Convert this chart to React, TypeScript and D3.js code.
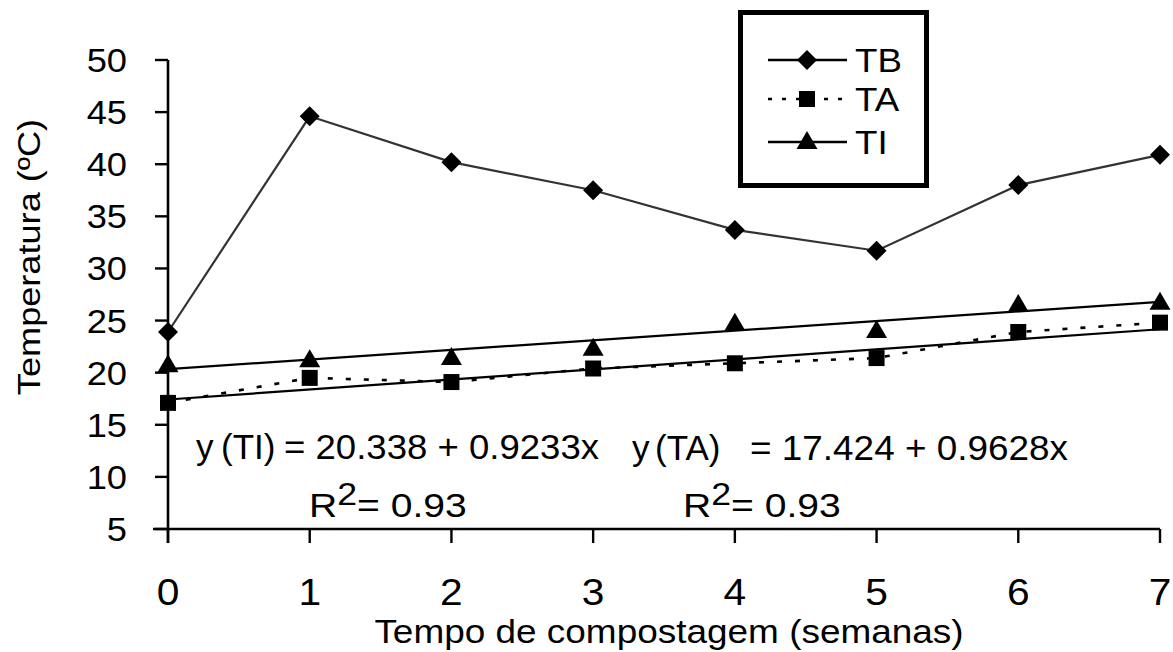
import React from "react";
import * as d3 from "d3";

const weeks = [0, 1, 2, 3, 4, 5, 6, 7];
const tbValues = [23.9, 44.6, 40.2, 37.5, 33.7, 31.7, 38.0, 40.9];
const taValues = [17.1, 19.5, 19.1, 20.4, 20.9, 21.4, 23.9, 24.8];
const tiValues = [20.7, 21.2, 21.4, 22.3, 24.7, 24.0, 26.5, 26.7];
const yTicks = [5, 10, 15, 20, 25, 30, 35, 40, 45, 50];
const xTicks = [0, 1, 2, 3, 4, 5, 6, 7];
const trendTI = [20.338, 0.9233];
const trendTA = [17.424, 0.9628];
const legendNames = ["TB", "TA", "TI"];
const eqSeries = ["TI", "TA"];
const eqRhs = ["= 20.338 + 0.9233x", "= 17.424 + 0.9628x"];
const r2Texts = ["0.93", "0.93"];

const FONT = "'Liberation Sans', Arial, sans-serif";

const W = 1173;
const H = 652;

const x = d3.scaleLinear().domain([0, 7]).range([168, 1160]);
const y = d3.scaleLinear().domain([5, 50]).range([529, 60]);

function Txt(props: {
  x: number;
  y: number;
  size: number;
  sx?: number;
  anchor?: string;
  rotate?: number;
  len?: number;
  children: React.ReactNode;
}) {
  const { size, anchor = "start", rotate = 0, sx = 1.12, len } = props;
  return (
    <text
      transform={`translate(${props.x},${props.y}) rotate(${rotate}) scale(${len ? 1 : sx},1)`}
      fontFamily={FONT}
      fontSize={size}
      textAnchor={anchor}
      fill="#000"
      textLength={len}
      lengthAdjust={len ? "spacingAndGlyphs" : undefined}
      style={{ whiteSpace: "pre" }}
    >
      {props.children}
    </text>
  );
}

function diamond(cx: number, cy: number, r = 10) {
  return `M${cx},${cy - r}L${cx + r},${cy}L${cx},${cy + r}L${cx - r},${cy}Z`;
}
function triangle(cx: number, cy: number, w = 21, h = 18) {
  return `M${cx},${cy - h / 2 - 2}L${cx + w / 2},${cy + h / 2 - 2}L${cx - w / 2},${cy + h / 2 - 2}Z`;
}

export default function App() {
  const line = d3
    .line<number>()
    .x((_, i) => x(weeks[i]))
    .y((v) => y(v));

  const trend = (c: number[]) =>
    d3
      .line<number>()
      .x((t) => x(t))
      .y((t) => y(c[0] + c[1] * t))([0, 7]) as string;

  const legendRows = [60, 99, 142];
  const eqPos = [
    { yx: 196, px: 221, ex: 284, end: 599, base: 459, rx: 309 },
    { yx: 632, px: 655, ex: 750, end: 1068, base: 460, rx: 683 },
  ];

  return (
    <svg
      width={W}
      height={H}
      style={{ position: "absolute", left: 0, top: 0, background: "#fff" }}
    >
      <rect x={0} y={0} width={W} height={H} fill="#fff" />

      {/* axes */}
      <line x1={153} x2={x(7)} y1={y(5)} y2={y(5)} stroke="#000" strokeWidth={2.6} />
      <line x1={x(0)} x2={x(0)} y1={y(50)} y2={y(5) + 14} stroke="#000" strokeWidth={2.6} />
      {yTicks.map((t) => (
        <g key={"yt" + t}>
          <line x1={155} x2={x(0)} y1={y(t)} y2={y(t)} stroke="#000" strokeWidth={2.4} />
          <Txt x={127} y={y(t) + 12} size={33} anchor="end" sx={1.1}>
            {String(t)}
          </Txt>
        </g>
      ))}
      {xTicks.map((t) => (
        <g key={"xt" + t}>
          <line x1={x(t)} x2={x(t)} y1={y(5)} y2={y(5) + 14} stroke="#000" strokeWidth={2.4} />
          <Txt x={x(t)} y={605} size={37} anchor="middle" sx={1.1}>
            {String(t)}
          </Txt>
        </g>
      ))}

      {/* axis titles */}
      <Txt x={669} y={643} size={33} anchor="middle" sx={1.12}>
        Tempo de compostagem (semanas)
      </Txt>
      <Txt x={40} y={257} size={32} anchor="middle" rotate={-90} sx={1.13}>
        Temperatura (ºC)
      </Txt>

      {/* trend lines */}
      <path d={trend(trendTI)} fill="none" stroke="#000" strokeWidth={2.2} />
      <path d={trend(trendTA)} fill="none" stroke="#000" strokeWidth={2.2} />

      {/* TA dotted */}
      <path
        d={line(taValues) as string}
        fill="none"
        stroke="#000"
        strokeWidth={2.6}
        strokeDasharray="5,13"
      />
      {/* TB */}
      <path d={line(tbValues) as string} fill="none" stroke="#333" strokeWidth={2.2} />

      {/* markers */}
      {tbValues.map((v, i) => (
        <path key={"tb" + i} d={diamond(x(weeks[i]), y(v))} fill="#000" />
      ))}
      {taValues.map((v, i) => (
        <rect
          key={"ta" + i}
          x={x(weeks[i]) - 8}
          y={y(v) - 8}
          width={16}
          height={16}
          fill="#000"
        />
      ))}
      {tiValues.map((v, i) => (
        <path key={"ti" + i} d={triangle(x(weeks[i]), y(v))} fill="#000" />
      ))}

      {/* equations */}
      {eqPos.map((p, i) => (
        <g key={"eq" + i}>
          <Txt x={p.yx} y={p.base} size={35} sx={1.0}>
            y
          </Txt>
          <Txt x={p.px} y={p.base} size={35} sx={1.0}>
            {"(" + eqSeries[i] + ")"}
          </Txt>
          <Txt x={p.ex} y={p.base} size={35} len={p.end - p.ex}>
            {eqRhs[i]}
          </Txt>
          <text
            transform={`translate(${p.rx},517) scale(1.15,1)`}
            fontFamily={FONT}
            fontSize={34}
            fill="#000"
            style={{ whiteSpace: "pre" }}
          >
            <tspan>R</tspan>
            <tspan fontSize={31} dy={-12}>
              2
            </tspan>
            <tspan dy={12}>{"= " + r2Texts[i]}</tspan>
          </text>
        </g>
      ))}

      {/* legend */}
      <rect x={740.5} y={12.5} width={186} height={173} fill="#fff" stroke="#000" strokeWidth={5} />
      {legendNames.map((name, i) => {
        const ly = legendRows[i];
        return (
          <g key={"lg" + name}>
            <line
              x1={768}
              x2={847}
              y1={ly}
              y2={ly}
              stroke="#000"
              strokeWidth={2.4}
              strokeDasharray={name === "TA" ? "4,10" : undefined}
            />
            {name === "TB" && <path d={diamond(807, ly)} fill="#000" />}
            {name === "TA" && <rect x={799} y={ly - 8} width={16} height={16} fill="#000" />}
            {name === "TI" && <path d={triangle(807, ly)} fill="#000" />}
            <Txt x={855} y={ly + 12} size={34} sx={1.08}>
              {name}
            </Txt>
          </g>
        );
      })}
    </svg>
  );
}
